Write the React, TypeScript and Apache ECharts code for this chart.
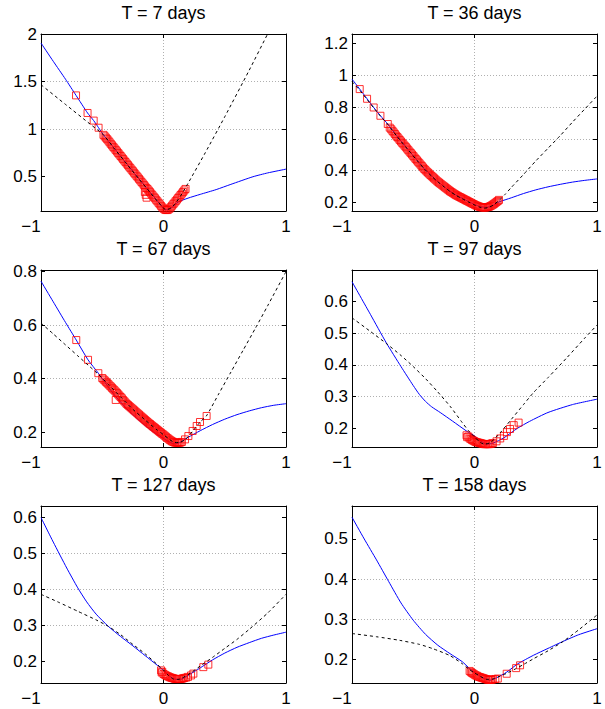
import React, { useEffect, useRef } from "react";
import * as echarts from "echarts";

const titles = ["T = 7 days", "T = 36 days", "T = 67 days", "T = 97 days", "T = 127 days", "T = 158 days"];
const yMin = [0.14, 0.145, 0.144, 0.141, 0.141, 0.142];
const yMax = [2, 1.26, 0.806, 0.7, 0.632, 0.582];
const yTicks = [
  [0.5, 1, 1.5, 2],
  [0.2, 0.4, 0.6, 0.8, 1, 1.2],
  [0.2, 0.4, 0.6, 0.8],
  [0.2, 0.3, 0.4, 0.5, 0.6],
  [0.2, 0.3, 0.4, 0.5, 0.6],
  [0.2, 0.3, 0.4, 0.5],
];
const xTicks = [-1, 0, 1];

// T = 7 days
const blue7 = [[-1,1.905],[-0.9,1.713],[-0.8,1.525],[-0.714,1.355],[-0.62,1.17],[-0.57,1.09],[-0.53,1.015],[-0.49,0.94],[-0.4,0.796],[-0.3,0.636],[-0.2,0.478],[-0.11,0.338],[-0.05,0.245],[0,0.172],[0.03,0.152],[0.07,0.178],[0.12,0.235],[0.2,0.275],[0.3,0.315],[0.43,0.365],[0.55,0.42],[0.73,0.5],[0.85,0.54],[1,0.58]];
const dash7 = [[-1,1.467],[-0.8,1.26],[-0.6,1.054],[-0.49,0.94],[-0.4,0.793],[-0.3,0.634],[-0.2,0.476],[-0.11,0.336],[-0.05,0.243],[0,0.17],[0.02,0.152],[0.06,0.172],[0.1,0.225],[0.15,0.32],[0.2,0.43],[0.34,0.75],[0.5,1.13],[0.7,1.62],[0.85,2.0],[0.9,2.12]];
const mark7 = [[-0.714,1.355],[-0.62,1.17],[-0.57,1.09],[-0.53,1.015],
  [-0.49,0.94],[-0.48,0.925],[-0.47,0.91],[-0.46,0.895],[-0.45,0.88],[-0.44,0.862],[-0.43,0.846],[-0.42,0.83],[-0.41,0.814],[-0.4,0.798],[-0.39,0.782],[-0.38,0.766],[-0.37,0.75],[-0.36,0.734],[-0.35,0.718],[-0.34,0.702],[-0.33,0.686],[-0.32,0.67],[-0.31,0.654],[-0.3,0.638],[-0.29,0.622],[-0.28,0.606],[-0.27,0.59],[-0.26,0.574],[-0.25,0.558],[-0.24,0.542],[-0.23,0.526],[-0.22,0.51],[-0.21,0.494],[-0.2,0.478],[-0.19,0.462],[-0.18,0.446],[-0.17,0.43],[-0.16,0.414],[-0.15,0.398],[-0.14,0.382],
  [-0.152,0.34],[-0.145,0.31],[-0.138,0.28],
  [-0.13,0.37],[-0.12,0.354],[-0.11,0.338],[-0.1,0.322],[-0.09,0.306],[-0.08,0.29],[-0.07,0.274],[-0.06,0.258],[-0.05,0.242],[-0.04,0.226],[-0.03,0.21],[-0.02,0.194],[-0.01,0.178],[0,0.165],[0.01,0.155],[0.02,0.15],[0.03,0.15],[0.04,0.155],[0.05,0.165],[0.06,0.18],[0.07,0.196],[0.08,0.212],[0.09,0.228],[0.1,0.244],[0.11,0.26],[0.12,0.276],[0.13,0.292],[0.14,0.308],[0.15,0.324],[0.16,0.34],[0.17,0.356],[0.18,0.372]];

// T = 36 days
const blue36 = [[-1,0.976],[-0.937,0.913],[-0.877,0.852],[-0.823,0.797],[-0.768,0.745],[-0.708,0.693],[-0.64,0.625],[-0.58,0.567],[-0.52,0.512],[-0.46,0.457],[-0.41,0.412],[-0.35,0.366],[-0.3,0.331],[-0.25,0.3],[-0.2,0.27],[-0.15,0.245],[-0.1,0.225],[-0.05,0.205],[0,0.186],[0.05,0.172],[0.1,0.168],[0.15,0.18],[0.2,0.202],[0.3,0.228],[0.4,0.255],[0.5,0.278],[0.6,0.297],[0.7,0.313],[0.8,0.327],[0.9,0.338],[1,0.347]];
const dash36 = [[-1,0.96],[-0.937,0.905],[-0.877,0.848],[-0.823,0.795],[-0.768,0.743],[-0.708,0.69],[-0.64,0.622],[-0.58,0.565],[-0.52,0.51],[-0.46,0.455],[-0.41,0.41],[-0.35,0.364],[-0.3,0.329],[-0.25,0.298],[-0.2,0.268],[-0.15,0.243],[-0.1,0.222],[-0.05,0.202],[0,0.183],[0.04,0.17],[0.08,0.163],[0.12,0.168],[0.16,0.186],[0.2,0.212],[0.25,0.25],[0.3,0.293],[0.4,0.375],[0.5,0.46],[0.6,0.54],[0.7,0.62],[0.8,0.705],[0.9,0.787],[1,0.869]];
const mark36 = [[-0.937,0.913],[-0.877,0.852],[-0.823,0.797],[-0.768,0.745],[-0.708,0.693],[-0.692,0.67],
  [-0.68,0.66],[-0.67,0.65],[-0.66,0.64],[-0.65,0.63],[-0.64,0.62],[-0.63,0.611],[-0.62,0.602],[-0.61,0.592],[-0.6,0.583],[-0.59,0.574],[-0.58,0.565],[-0.57,0.556],[-0.56,0.547],[-0.55,0.538],[-0.54,0.528],[-0.53,0.519],[-0.52,0.51],[-0.51,0.501],[-0.5,0.492],[-0.49,0.482],[-0.48,0.473],[-0.47,0.464],[-0.46,0.455],[-0.45,0.446],[-0.44,0.437],[-0.43,0.428],[-0.42,0.419],[-0.41,0.41],[-0.4,0.402],[-0.39,0.394],[-0.38,0.387],[-0.37,0.38],[-0.36,0.372],[-0.35,0.365],[-0.34,0.358],[-0.33,0.351],[-0.32,0.344],[-0.31,0.337],[-0.3,0.33],[-0.29,0.324],[-0.28,0.318],[-0.27,0.312],[-0.26,0.306],[-0.25,0.3],[-0.24,0.294],[-0.23,0.288],[-0.22,0.282],[-0.21,0.276],[-0.2,0.27],[-0.19,0.265],[-0.18,0.26],[-0.17,0.255],[-0.16,0.25],[-0.15,0.245],[-0.14,0.241],[-0.13,0.237],[-0.12,0.233],[-0.11,0.229],[-0.1,0.225],[-0.09,0.221],[-0.08,0.217],[-0.07,0.213],[-0.06,0.209],[-0.05,0.205],[-0.04,0.201],[-0.03,0.197],[-0.02,0.193],[-0.01,0.189],[0,0.185],[0.01,0.181],[0.02,0.178],[0.03,0.175],[0.04,0.172],[0.05,0.17],[0.06,0.168],[0.07,0.167],[0.08,0.166],[0.09,0.167],[0.1,0.168],[0.11,0.17],[0.12,0.172],[0.13,0.176],[0.14,0.18],[0.15,0.185],[0.16,0.19],[0.17,0.196],[0.18,0.202],[0.19,0.208],[0.2,0.215]];

// T = 67 days
const blue67 = [[-1,0.764],[-0.9,0.687],[-0.8,0.61],[-0.712,0.544],[-0.616,0.47],[-0.532,0.42],[-0.45,0.368],[-0.4,0.338],[-0.3,0.287],[-0.2,0.244],[-0.1,0.206],[0,0.176],[0.05,0.162],[0.09,0.156],[0.13,0.16],[0.2,0.18],[0.3,0.205],[0.4,0.228],[0.5,0.248],[0.6,0.265],[0.7,0.279],[0.8,0.291],[0.9,0.3],[1,0.306]];
const dash67 = [[-1,0.6075],[-0.9,0.567],[-0.8,0.526],[-0.7,0.485],[-0.6,0.444],[-0.53,0.415],[-0.45,0.378],[-0.35,0.331],[-0.25,0.285],[-0.15,0.245],[-0.05,0.207],[0,0.19],[0.05,0.172],[0.09,0.161],[0.13,0.161],[0.18,0.173],[0.24,0.204],[0.3,0.238],[0.35,0.26],[0.45,0.342],[0.55,0.424],[0.65,0.506],[0.75,0.588],[0.85,0.672],[1,0.8]];
const mark67 = [[-0.712,0.544],[-0.616,0.47],[-0.532,0.42],[-0.39,0.32],
  [-0.5,0.402],[-0.49,0.397],[-0.48,0.393],[-0.47,0.388],[-0.46,0.384],[-0.45,0.379],[-0.44,0.374],[-0.43,0.37],[-0.42,0.365],[-0.41,0.36],[-0.4,0.356],[-0.39,0.351],[-0.38,0.346],[-0.37,0.341],[-0.36,0.336],[-0.35,0.331],[-0.34,0.326],[-0.33,0.32],[-0.32,0.315],[-0.31,0.31],[-0.3,0.305],[-0.29,0.301],[-0.28,0.297],[-0.27,0.293],[-0.26,0.289],[-0.25,0.285],[-0.24,0.281],[-0.23,0.277],[-0.22,0.273],[-0.21,0.269],[-0.2,0.265],[-0.19,0.261],[-0.18,0.257],[-0.17,0.253],[-0.16,0.249],[-0.15,0.245],[-0.14,0.241],[-0.13,0.237],[-0.12,0.233],[-0.11,0.23],[-0.1,0.226],[-0.09,0.222],[-0.08,0.219],[-0.07,0.215],[-0.06,0.211],[-0.05,0.208],[-0.04,0.204],[-0.03,0.2],[-0.02,0.197],[-0.01,0.193],[0,0.19],[0.01,0.186],[0.02,0.182],[0.03,0.178],[0.04,0.175],[0.05,0.171],[0.06,0.168],[0.07,0.165],[0.08,0.163],[0.09,0.161],[0.1,0.16],[0.11,0.16],[0.12,0.16],[0.13,0.16],[0.14,0.161],[0.15,0.163],
  [0.176,0.1725],[0.203,0.185],[0.238,0.204],[0.271,0.2225],[0.298,0.2375],[0.352,0.26]];

// T = 97 days
const blue97 = [[-1,0.663],[-0.85,0.56],[-0.72,0.47],[-0.6,0.395],[-0.5,0.335],[-0.45,0.307],[-0.4,0.285],[-0.35,0.268],[-0.28,0.25],[-0.18,0.223],[-0.06,0.19],[0,0.176],[0.05,0.16],[0.1,0.15],[0.15,0.153],[0.24,0.17],[0.35,0.2],[0.45,0.222],[0.6,0.25],[0.8,0.275],[1,0.292]];
const dash97 = [[-1,0.549],[-0.85,0.506],[-0.72,0.468],[-0.6,0.43],[-0.5,0.395],[-0.4,0.357],[-0.3,0.315],[-0.2,0.27],[-0.1,0.218],[-0.05,0.193],[0,0.173],[0.045,0.156],[0.08,0.15],[0.13,0.155],[0.21,0.186],[0.3,0.228],[0.4,0.275],[0.482,0.313],[0.6,0.36],[0.754,0.423],[0.9,0.485],[1,0.526]];
const mark97 = [[-0.065,0.178],[-0.06,0.172],[-0.05,0.174],[-0.04,0.168],[-0.03,0.166],[-0.02,0.163],[-0.01,0.161],[0,0.159],[0.01,0.157],[0.02,0.156],[0.03,0.155],[0.04,0.154],[0.05,0.153],[0.06,0.152],[0.07,0.151],[0.08,0.15],[0.09,0.15],[0.1,0.15],[0.11,0.15],[0.12,0.15],[0.13,0.151],[0.14,0.152],[0.15,0.153],
  [0.18,0.159],[0.21,0.168],[0.24,0.176],[0.265,0.188],[0.29,0.198],[0.32,0.21],[0.36,0.218]];

// T = 127 days
const blue127 = [[-1,0.6],[-0.9,0.532],[-0.79,0.46],[-0.7,0.405],[-0.627,0.366],[-0.55,0.332],[-0.45,0.298],[-0.35,0.27],[-0.25,0.244],[-0.15,0.217],[-0.05,0.19],[0,0.176],[0.05,0.16],[0.1,0.151],[0.15,0.152],[0.2,0.162],[0.3,0.183],[0.4,0.205],[0.5,0.224],[0.6,0.24],[0.7,0.253],[0.8,0.265],[0.9,0.274],[1,0.282]];
const dash127 = [[-1,0.387],[-0.85,0.364],[-0.7,0.34],[-0.55,0.316],[-0.45,0.298],[-0.35,0.275],[-0.25,0.248],[-0.15,0.222],[-0.05,0.192],[0,0.177],[0.04,0.162],[0.08,0.152],[0.12,0.151],[0.2,0.164],[0.3,0.188],[0.4,0.212],[0.5,0.237],[0.6,0.262],[0.7,0.29],[0.85,0.335],[1,0.387]];
const mark127 = [[-0.02,0.176],[-0.015,0.17],[-0.01,0.172],[0,0.166],[0.01,0.164],[0.02,0.162],[0.03,0.16],[0.04,0.159],[0.05,0.157],[0.06,0.156],[0.07,0.155],[0.08,0.154],[0.09,0.153],[0.1,0.152],[0.11,0.152],[0.12,0.152],[0.13,0.152],[0.14,0.152],[0.15,0.153],[0.16,0.154],[0.17,0.155],[0.185,0.156],[0.2,0.158],
  [0.225,0.162],[0.244,0.167],[0.325,0.185],[0.366,0.192]];

// T = 158 days
const blue158 = [[-1,0.554],[-0.9,0.5],[-0.8,0.448],[-0.7,0.394],[-0.6,0.341],[-0.5,0.298],[-0.4,0.263],[-0.3,0.236],[-0.2,0.215],[-0.1,0.195],[-0.04,0.178],[0.02,0.164],[0.08,0.153],[0.127,0.149],[0.18,0.155],[0.263,0.169],[0.35,0.189],[0.482,0.211],[0.6,0.228],[0.727,0.246],[0.85,0.262],[1,0.277]];
const dash158 = [[-1,0.265],[-0.8,0.257],[-0.61,0.248],[-0.45,0.238],[-0.337,0.227],[-0.2,0.21],[-0.1,0.19],[-0.04,0.175],[0,0.167],[0.05,0.158],[0.1,0.151],[0.15,0.152],[0.2,0.158],[0.263,0.166],[0.34,0.178],[0.4,0.188],[0.48,0.202],[0.6,0.222],[0.727,0.246],[0.85,0.274],[1,0.311]];
const mark158 = [[-0.04,0.172],[-0.03,0.169],[-0.02,0.167],[-0.01,0.165],[0,0.163],[0.01,0.161],[0.02,0.16],[0.03,0.158],[0.04,0.157],[0.05,0.156],[0.06,0.155],[0.07,0.154],[0.08,0.153],[0.09,0.152],[0.1,0.151],[0.11,0.15],[0.12,0.15],[0.13,0.15],[0.14,0.15],[0.15,0.151],[0.17,0.152],[0.19,0.153],
  [0.263,0.165],[0.34,0.179],[0.372,0.186]];

const blueSets = [blue7, blue36, blue67, blue97, blue127, blue158];
const dashSets = [dash7, dash36, dash67, dash97, dash127, dash158];
const markSets = [mark7, mark36, mark67, mark97, mark127, mark158];

const FONT = '"Liberation Sans", Arial, Helvetica, sans-serif';
const colLeft = [41, 352];
const rowTop = [34, 270, 506];
const W = 245;
const H = 177;

export default function App() {
  const ref = useRef<HTMLDivElement>(null);
  useEffect(() => {
    document.body.style.margin = "0";
    const chart = echarts.init(ref.current!, undefined, { renderer: "svg" });
    const grids: any[] = [];
    const xAxes: any[] = [];
    const yAxes: any[] = [];
    const series: any[] = [];
    const graphics: any[] = [];
    const tickStyle = { show: true, inside: true, length: 4, lineStyle: { color: "#000", width: 1 } };
    const lineAx = { show: true, onZero: false, lineStyle: { color: "#000", width: 1 } };
    const split = { show: true, showMinLine: false, showMaxLine: false, lineStyle: { color: "#b0b0b0", width: 1, type: [1, 2] } };
    for (let i = 0; i < 6; i++) {
      const c = i % 2;
      const r = Math.floor(i / 2);
      grids.push({ left: colLeft[c], top: rowTop[r], width: W, height: H, containLabel: false });
      graphics.push({
        type: "text",
        x: colLeft[c] + W / 2,
        y: rowTop[r] - 21.5,
        style: { text: titles[i], fill: "#000", fontSize: 18, fontFamily: FONT, align: "center", verticalAlign: "middle", textAlign: "center", textVerticalAlign: "middle" },
      });
    }
    for (let i = 0; i < 6; i++) {
      xAxes.push({
        type: "value", gridIndex: i, min: -1, max: 1, interval: 1, position: "bottom",
        axisLine: lineAx, axisTick: tickStyle, splitLine: split,
        axisLabel: {
          color: "#000", fontSize: 17, fontFamily: FONT, margin: 7,
          customValues: xTicks,
          formatter: (v: number) => (v < 0 ? "{m|\u2212" + String(Math.abs(v)) + "}" : String(v)),
          rich: { m: { color: "#000", fontSize: 17, fontFamily: FONT, padding: [0, 20, 0, 0] } },
        },
      });
      yAxes.push({
        type: "value", gridIndex: i, min: yMin[i], max: yMax[i], position: "left",
        axisLine: lineAx,
        axisTick: { ...tickStyle, customValues: yTicks[i] },
        splitLine: split,
        axisLabel: { color: "#000", fontSize: 17, fontFamily: FONT, margin: 4, customValues: yTicks[i] },
      });
    }
    for (let i = 0; i < 6; i++) {
      xAxes.push({
        type: "value", gridIndex: i, min: -1, max: 1, interval: 1, position: "top",
        axisLine: lineAx, axisTick: tickStyle, splitLine: { show: false }, axisLabel: { show: false },
      });
      yAxes.push({
        type: "value", gridIndex: i, min: yMin[i], max: yMax[i], position: "right",
        axisLine: lineAx, axisTick: { ...tickStyle, customValues: yTicks[i] },
        splitLine: { show: false }, axisLabel: { show: false, customValues: yTicks[i] },
      });
    }
    for (let i = 0; i < 6; i++) {
      series.push({
        type: "line", xAxisIndex: i, yAxisIndex: i, data: blueSets[i], symbol: "none", showSymbol: false,
        smooth: 0.2, lineStyle: { color: "#0000ff", width: 1 }, z: 2, silent: true,
      });
      series.push({
        type: "scatter", xAxisIndex: i, yAxisIndex: i, data: markSets[i], symbol: "rect", symbolSize: 7,
        itemStyle: { color: "rgba(255,255,255,0)", borderColor: "#ff0000", borderWidth: 1 }, z: 3, silent: true,
      });
      series.push({
        type: "line", xAxisIndex: i, yAxisIndex: i, data: dashSets[i], symbol: "none", showSymbol: false,
        smooth: 0.2, lineStyle: { color: "#000", width: 1, type: [3, 3] }, z: 4, silent: true,
      });
    }
    chart.setOption({
      animation: false,
      backgroundColor: "#fff",
      grid: grids,
      xAxis: xAxes,
      yAxis: yAxes,
      series,
      graphic: graphics,
    });
    return () => chart.dispose();
  }, []);
  return <div ref={ref} style={{ width: 605, height: 709, position: "absolute", left: 0, top: 0 }} />;
}
